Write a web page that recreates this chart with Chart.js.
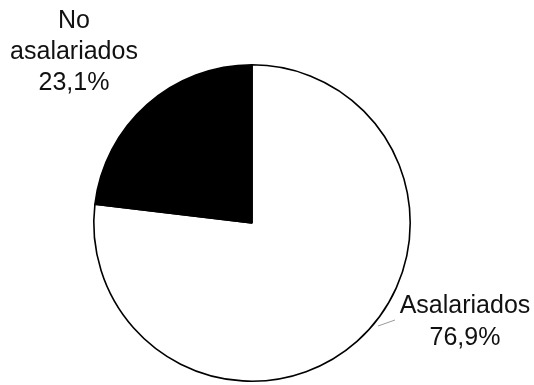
<!DOCTYPE html>
<html>
<head>
<meta charset="utf-8">
<style>
  html, body { margin: 0; padding: 0; background: #ffffff; }
  #wrap { width: 534px; height: 385px; }
</style>
<script src="https://cdn.jsdelivr.net/npm/chart.js@4/dist/chart.umd.min.js"></script>
</head>
<body>
<div id="wrap"><canvas id="pie" width="534" height="385"></canvas></div>
<script>
// Composición: asalariados frente a no asalariados (%)
const categories = ['Asalariados', 'No asalariados'];
const shares = [76.9, 23.1];
const labelLines = [['Asalariados'], ['No', 'asalariados']];
const sliceColors = ['#ffffff', '#000000'];

const fmt = v => v.toFixed(1).replace('.', ',') + '%';

// Label placement relative to the pie centre (x offset, first baseline offset, line step)
const labelPlacement = [
  { dx: 213, dy: 90, step: 32 },
  { dx: -178, dy: -195, step: 31 }
];

const sliceLabels = {
  id: 'sliceLabels',
  afterDraw(chart) {
    const ctx = chart.ctx;
    const arcs = chart.getDatasetMeta(0).data;
    const cx = arcs[0].x, cy = arcs[0].y;
    ctx.save();
    // short grey leader line for the large slice
    ctx.strokeStyle = '#9a9a9a';
    ctx.lineWidth = 1;
    ctx.beginPath();
    ctx.moveTo(cx + 126, cy + 103);
    ctx.lineTo(cx + 143, cy + 97);
    ctx.stroke();

    ctx.fillStyle = '#111111';
    ctx.font = '25px "Liberation Sans", Arial, sans-serif';
    ctx.textAlign = 'center';
    ctx.textBaseline = 'alphabetic';
    shares.forEach((v, i) => {
      const p = labelPlacement[i];
      const lines = labelLines[i].concat([fmt(v)]);
      lines.forEach((t, k) => {
        ctx.fillText(t, cx + p.dx, cy + p.dy + k * p.step);
      });
    });
    ctx.restore();
  }
};

new Chart(document.getElementById('pie'), {
  type: 'pie',
  data: {
    labels: categories,
    datasets: [{
      data: shares,
      backgroundColor: sliceColors,
      borderColor: '#000000',
      borderWidth: 1.6
    }]
  },
  options: {
    responsive: false,
    animation: false,
    rotation: 0,
    layout: { padding: { left: 93, right: 123, top: 64, bottom: 3 } },
    plugins: {
      legend: { display: false },
      tooltip: { enabled: false }
    }
  },
  plugins: [sliceLabels]
});
</script>
</body>
</html>
